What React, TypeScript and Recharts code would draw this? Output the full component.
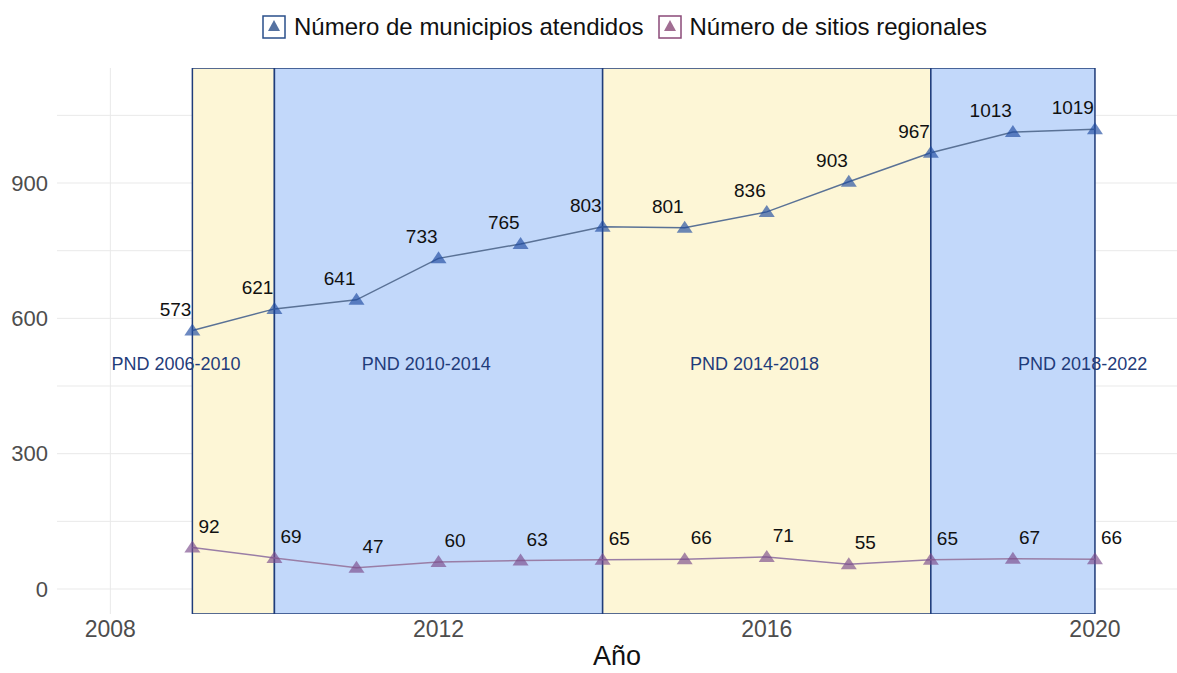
import React from "react";
import {
  ComposedChart,
  Line,
  XAxis,
  YAxis,
  CartesianGrid,
  ReferenceArea,
  LabelList,
} from "recharts";

const years = [2009, 2010, 2011, 2012, 2013, 2014, 2015, 2016, 2017, 2018, 2019, 2020];
const municipios = [573, 621, 641, 733, 765, 803, 801, 836, 903, 967, 1013, 1019];
const sitios = [92, 69, 47, 60, 63, 65, 66, 71, 55, 65, 67, 66];

const periods = [
  { from: 2009, to: 2010, label: "PND 2006-2010", labelX: 2008.8, fill: "#fdf6d6" },
  { from: 2010, to: 2014, label: "PND 2010-2014", labelX: 2011.85, fill: "#c2d8fa" },
  { from: 2014, to: 2018, label: "PND 2014-2018", labelX: 2015.85, fill: "#fdf6d6" },
  { from: 2018, to: 2020, label: "PND 2018-2022", labelX: 2019.85, fill: "#c2d8fa" },
];

const xTicks = [2008, 2012, 2016, 2020];
const yTicks = [0, 300, 600, 900];
const xGrid = [2008, 2010, 2012, 2014, 2016, 2018, 2020];
const yGrid = [0, 150, 300, 450, 600, 750, 900, 1050];

const data = years.map((y, i) => ({ year: y, mun: municipios[i], sit: sitios[i] }));
const labelData = periods.map((p) => ({ year: p.labelX, pnd: 500, text: p.label }));

const BLUE = "#1d4aa0";
const MAUVE = "#7a4a8a";

const triangle = (color: string) => (props: any) => {
  const { cx, cy, index } = props;
  if (cx == null || cy == null) return <g key={index} />;
  return (
    <path
      key={index}
      d={`M${cx},${cy - 7} L${cx + 8},${cy + 5} L${cx - 8},${cy + 5} Z`}
      fill={color}
      fillOpacity={0.65}
    />
  );
};

const valueLabel = (dx: number, anchor: "end" | "start") => (props: any) => {
  const { x, y, value, index } = props;
  return (
    <text
      key={index}
      x={x + dx}
      y={y - 15}
      textAnchor={anchor}
      fontSize={19}
      fill="#111"
    >
      {value}
    </text>
  );
};

const LegendIcon = ({ color }: { color: string }) => (
  <svg width={24} height={24} style={{ verticalAlign: "middle" }}>
    <rect x={1} y={1} width={22} height={22} fill="#fff" stroke={color} strokeWidth={1.5} />
    <path d="M12,5 L18,16 L6,16 Z" fill={color} fillOpacity={0.8} />
  </svg>
);

export default function App() {
  return (
    <div
      style={{
        position: "absolute",
        left: 0,
        top: 0,
        width: 1177,
        height: 673,
        background: "#fff",
        fontFamily: "Liberation Sans, Arial, sans-serif",
      }}
    >
      <div
        style={{
          position: "absolute",
          top: 13,
          left: 0,
          width: 1177,
          display: "flex",
          justifyContent: "center",
          alignItems: "center",
          fontSize: 24,
          color: "#111",
          paddingLeft: 72,
          boxSizing: "border-box",
        }}
      >
        <LegendIcon color="#2a4f8a" />
        <span style={{ marginLeft: 8, marginRight: 14 }}>Número de municipios atendidos</span>
        <LegendIcon color="#8a4a78" />
        <span style={{ marginLeft: 8 }}>Número de sitios regionales</span>
      </div>
      <ComposedChart
        width={1177}
        height={673}
        data={data}
        margin={{ top: 68, right: 0, bottom: 0, left: 7 }}
      >
        <CartesianGrid
          stroke="#e9e9e9"
          strokeWidth={1}
          horizontalValues={yGrid}
          verticalValues={xGrid}
        />
        <XAxis
          dataKey="year"
          type="number"
          domain={[2007.35, 2021.0]}
          ticks={xTicks}
          allowDataOverflow
          axisLine={false}
          tickLine={false}
          tickSize={0}
          tickMargin={7}
          height={59}
          tick={{ fill: "#4d4d4d", fontSize: 23 }}
          label={{ value: "Año", position: "insideBottom", offset: 8, fill: "#111", fontSize: 27 }}
        />
        <YAxis
          type="number"
          domain={[-55.4, 1155]}
          ticks={yTicks}
          allowDataOverflow
          axisLine={false}
          tickLine={false}
          tickSize={0}
          tickMargin={9}
          width={50}
          tick={{ fill: "#4d4d4d", fontSize: 22 }}
        />
        {periods.map((p) => (
          <ReferenceArea
            key={p.label}
            x1={p.from}
            x2={p.to}
            y1={-55.4}
            y2={1155}
            fill={p.fill}
            fillOpacity={1}
            stroke="#1f3c7a"
            strokeWidth={1.5}
            ifOverflow="hidden"
          />
        ))}
        <Line
          data={labelData}
          dataKey="pnd"
          stroke="none"
          dot={false}
          activeDot={false}
          isAnimationActive={false}
          legendType="none"
        >
          <LabelList
            dataKey="text"
            content={(props: any) => (
              <text
                key={props.index}
                x={props.x}
                y={props.y + 7}
                textAnchor="middle"
                fontSize={18}
                fill="#1f3c7a"
              >
                {props.value}
              </text>
            )}
          />
        </Line>
        <Line
          dataKey="mun"
          stroke="#5a7296"
          strokeWidth={1.5}
          dot={triangle(BLUE)}
          activeDot={false}
          isAnimationActive={false}
        >
          <LabelList dataKey="mun" content={valueLabel(-1, "end")} />
        </Line>
        <Line
          dataKey="sit"
          stroke="#9a7ea6"
          strokeWidth={1.5}
          dot={triangle(MAUVE)}
          activeDot={false}
          isAnimationActive={false}
        >
          <LabelList dataKey="sit" content={valueLabel(6, "start")} />
        </Line>
      </ComposedChart>
    </div>
  );
}
